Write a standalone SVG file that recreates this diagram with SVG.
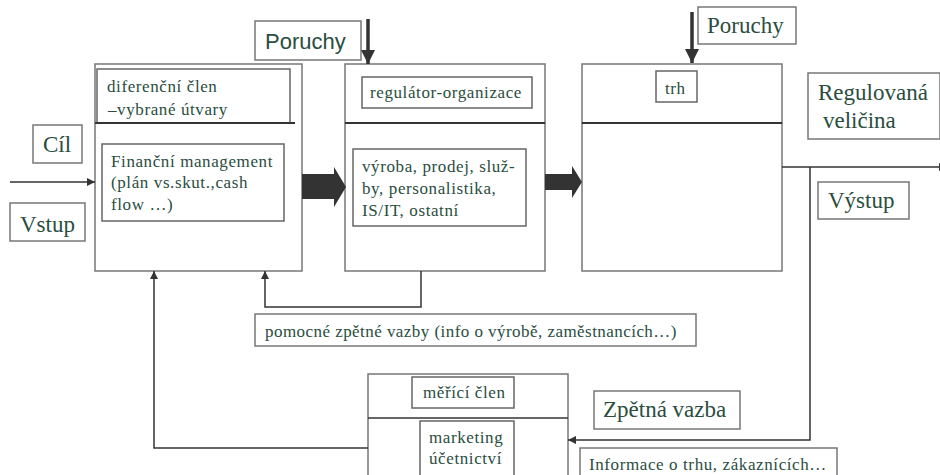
<svg xmlns="http://www.w3.org/2000/svg" width="940" height="475" viewBox="0 0 940 475">
<defs>
<style>
.box{fill:#fff;stroke:#777;stroke-width:1.5}
.ibox{fill:none;stroke:#666;stroke-width:1.5}
.div{stroke:#333;stroke-width:2}
text.t{font-family:'Liberation Serif','Times New Roman',serif;fill:#2a4d40}
text.s{font-size:17px;letter-spacing:0.6px}
text.l{font-size:23px}
text.sans{font-family:'Liberation Sans',Arial,sans-serif;font-size:22px;fill:#2a4d40}
.c{fill:none;stroke:#333;stroke-width:1.5}
.thick{fill:none;stroke:#333;stroke-width:3.5}
.big{fill:#333}
</style>
<marker id="ah" viewBox="0 0 10 10" refX="10" refY="5" markerWidth="8" markerHeight="8" markerUnits="userSpaceOnUse" orient="auto">
<path d="M0,0 L10,5 L0,10 z" fill="#333"/>
</marker>
<marker id="ahT" viewBox="0 0 10 10" refX="10" refY="5" markerWidth="4" markerHeight="4" orient="auto">
<path d="M0,0 L10,5 L0,10 z" fill="#333"/>
</marker>
</defs>
<rect width="940" height="475" fill="#fff"/>

<g id="box-diferencni">
<rect class="box" x="95" y="64" width="207" height="207"/>
<rect class="ibox" x="97" y="69" width="193" height="54"/>
<line class="div" x1="95" y1="123" x2="295" y2="123"/>
<text class="t s" x="107" y="92">diferenční člen</text>
<text class="t s" x="108" y="115">–vybrané útvary</text>
<rect class="ibox" x="102" y="144" width="182" height="77"/>
<text class="t s" x="111" y="167">Finanční management</text>
<text class="t s" x="111" y="188">(plán vs.skut.,cash</text>
<text class="t s" x="111" y="210">flow …)</text>
</g>

<g id="box-regulator">
<rect class="box" x="345" y="64" width="200" height="207"/>
<line class="div" x1="345" y1="123" x2="545" y2="123"/>
<rect class="ibox" x="362" y="77" width="170" height="31"/>
<text class="t s" x="370" y="98">regulátor-organizace</text>
<rect class="ibox" x="353" y="149" width="173" height="77"/>
<text class="t s" x="362" y="172">výroba, prodej, služ-</text>
<text class="t s" x="362" y="194">by, personalistika,</text>
<text class="t s" x="362" y="216">IS/IT, ostatní</text>
</g>

<g id="box-trh">
<rect class="box" x="582" y="64" width="200" height="207"/>
<line class="div" x1="582" y1="123" x2="782" y2="123"/>
<rect class="ibox" x="656" y="71" width="41" height="31"/>
<text class="t s" x="665" y="94">trh</text>
</g>

<g id="box-merici">
<rect class="box" x="368" y="374" width="200" height="110"/>
<line class="c" x1="368" y1="418" x2="568" y2="418"/>
<rect class="ibox" x="412" y="377" width="102" height="31"/>
<text class="t s" x="423" y="398">měřící člen</text>
<rect class="ibox" x="420" y="421" width="94" height="60"/>
<text class="t s" x="429" y="443">marketing</text>
<text class="t s" x="429" y="464">účetnictví</text>
</g>

<g id="label-cil">
<rect class="box" x="33" y="125" width="49" height="38"/>
<text class="t l" x="43" y="152">Cíl</text>
</g>
<g id="label-vstup">
<rect class="box" x="10" y="203" width="75" height="38"/>
<text class="t l" x="20" y="232">Vstup</text>
</g>
<g id="label-poruchy1">
<rect class="box" x="255" y="21" width="106" height="39"/>
<text class="sans" x="265" y="49">Poruchy</text>
</g>
<g id="label-poruchy2">
<rect class="box" x="698" y="7" width="98" height="37"/>
<text class="t l" x="707" y="33">Poruchy</text>
</g>
<g id="label-regulovana">
<rect class="box" x="808" y="73" width="132" height="66"/>
<text class="t l" x="818" y="100">Regulovaná</text>
<text class="t l" x="823" y="128">veličina</text>
</g>
<g id="label-vystup">
<rect class="box" x="818" y="182" width="91" height="37"/>
<text class="t l" x="828" y="208">Výstup</text>
</g>
<g id="label-pomocne">
<rect class="box" x="255" y="314" width="441" height="32"/>
<text class="t s" x="265" y="337" style="letter-spacing:0.45px">pomocné zpětné vazby (info o výrobě, zaměstnancích…)</text>
</g>
<g id="label-zpetna">
<rect class="box" x="594" y="391" width="146" height="38"/>
<text class="t l" x="603" y="417">Zpětná vazba</text>
</g>
<g id="label-informace">
<rect class="box" x="580" y="448" width="257" height="40"/>
<text class="t s" x="589" y="470">Informace o trhu, zákaznících…</text>
</g>

<g id="connectors">
<line class="thick" x1="368" y1="19" x2="368" y2="64" marker-end="url(#ahT)"/>
<line class="thick" x1="692" y1="12" x2="692" y2="63" marker-end="url(#ahT)"/>
<polygon class="big" points="302,174 334,174 334,167 346,187 334,207 334,199 302,199"/>
<polygon class="big" points="545,174 572,174 572,166 582,182 572,198 572,190 545,190"/>
<line class="c" x1="10" y1="182" x2="95" y2="182" marker-end="url(#ah)"/>
<line class="c" x1="782" y1="167" x2="947" y2="167" marker-end="url(#ah)"/>
<polyline class="c" points="810,167 810,440 568,440" marker-end="url(#ah)"/>
<polyline class="c" points="368,448 154,448 154,271" marker-end="url(#ah)"/>
<polyline class="c" points="421,271 421,307 265,307 265,271" marker-end="url(#ah)"/>
</g>
</svg>
